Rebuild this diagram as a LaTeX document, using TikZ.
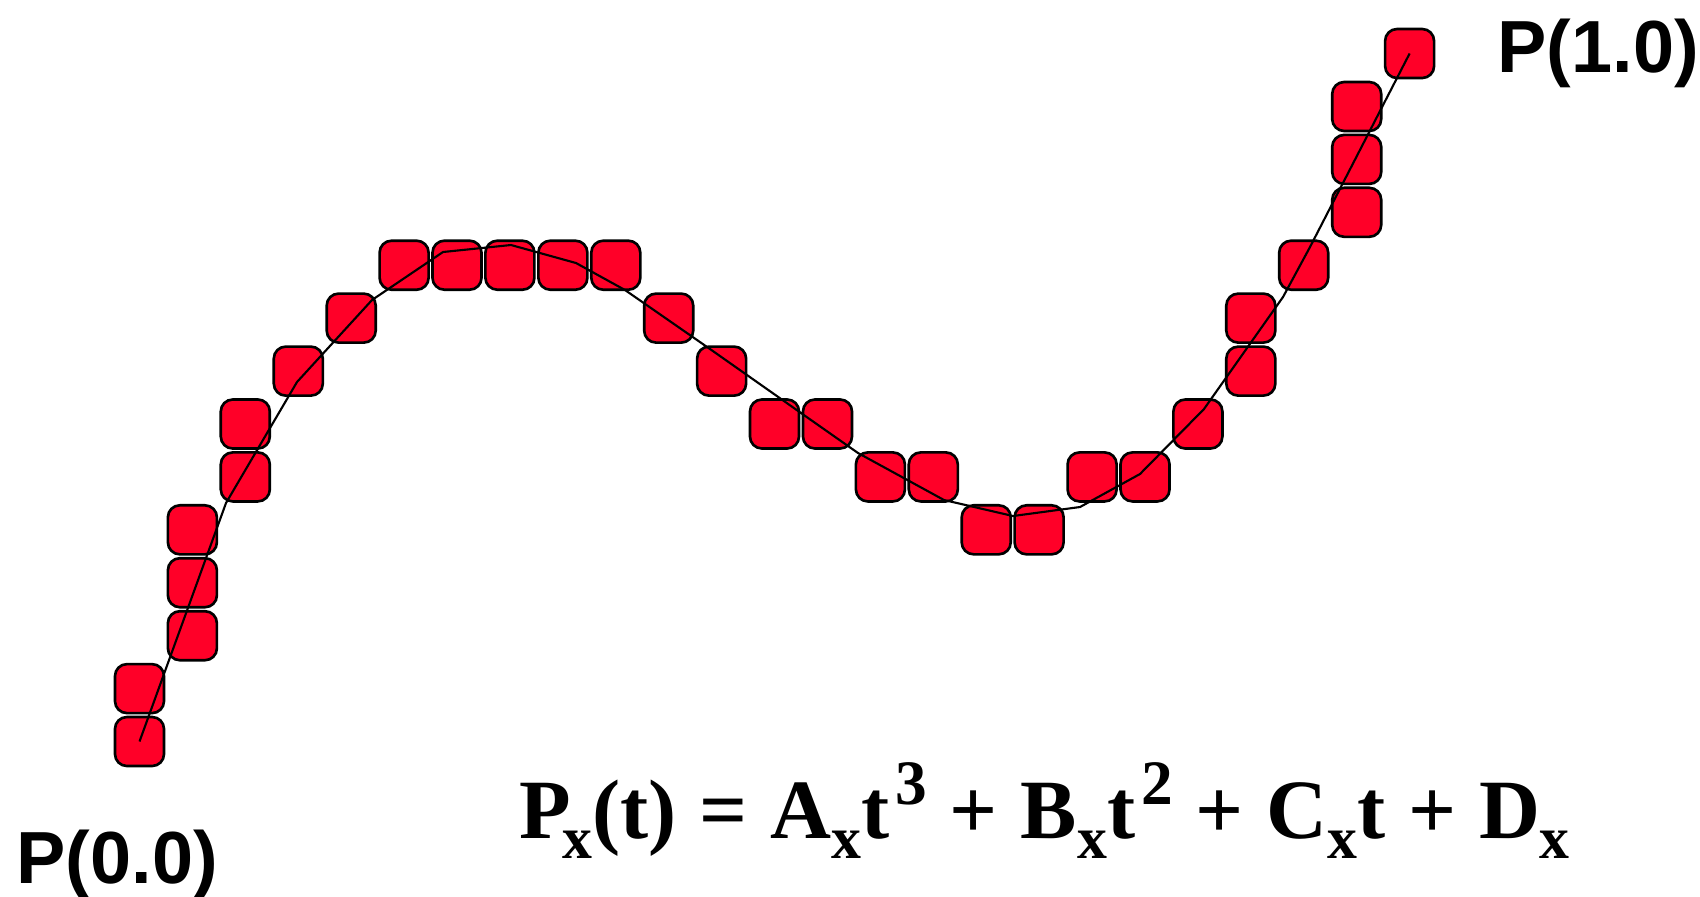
\documentclass[tikz,border=0pt]{standalone}
\usepackage{fontspec}
\usepackage{tikz}
\newfontfamily\labelfont{Liberation Sans}
\newfontfamily\eqnfont{Liberation Serif}
\definecolor{ptred}{RGB}{255,0,40}
\newcommand{\subx}{\raisebox{-0.24em}{\fontsize{17}{17}\selectfont x}}
\newcommand{\supn}[1]{\kern0.07em\raisebox{0.4em}{\fontsize{18}{18}\selectfont #1}}
\newcommand{\widespace}{\spaceskip=0.27em\relax}

\begin{document}
\begin{tikzpicture}[
  x=0.01cm, y=-0.01cm,
  sq/.style={draw, fill=ptred, line width=0.75pt, rounded corners=3.4pt, minimum size=0.49cm, inner sep=0pt},
  curveline/.style={line width=0.6pt},
  lbl/.style={font=\labelfont\bfseries\fontsize{21}{24}\selectfont, inner sep=0pt, anchor=base west},
  eqn/.style={font=\eqnfont\bfseries\fontsize{24}{28}\selectfont, inner sep=0pt, anchor=base west},
]
\useasboundingbox (0,0) rectangle (1700,896);

% ============ sample points, rising left part ============
\node[sq] (s1) at (139.5,741.5) {};
\node[sq] (s2) at (139.5,688.6) {};
\node[sq] (s3) at (192.4,635.7) {};
\node[sq] (s4) at (192.4,582.7) {};
\node[sq] (s5) at (192.4,529.8) {};
\node[sq] (s6) at (245.3,476.9) {};
\node[sq] (s7) at (245.3,424.0) {};
\node[sq] (s8) at (298.3,371.1) {};
\node[sq] (s9) at (351.2,318.1) {};

% ============ sample points, top hump ============
\node[sq] (s10) at (404.1,265.2) {};
\node[sq] (s11) at (457.0,265.2) {};
\node[sq] (s12) at (509.9,265.2) {};
\node[sq] (s13) at (562.9,265.2) {};
\node[sq] (s14) at (615.8,265.2) {};

% ============ sample points, falling middle part ============
\node[sq] (s15) at (668.7,318.1) {};
\node[sq] (s16) at (721.6,371.1) {};
\node[sq] (s17) at (774.5,424.0) {};
\node[sq] (s18) at (827.5,424.0) {};
\node[sq] (s19) at (880.4,476.9) {};
\node[sq] (s20) at (933.3,476.9) {};
\node[sq] (s21) at (986.2,529.8) {};
\node[sq] (s22) at (1039.1,529.8) {};

% ============ sample points, rising right part ============
\node[sq] (s23) at (1092.1,476.9) {};
\node[sq] (s24) at (1145.0,476.9) {};
\node[sq] (s25) at (1197.9,424.0) {};
\node[sq] (s26) at (1250.8,371.1) {};
\node[sq] (s27) at (1250.8,318.1) {};
\node[sq] (s28) at (1303.7,265.2) {};
\node[sq] (s29) at (1356.7,212.3) {};
\node[sq] (s30) at (1356.7,159.4) {};
\node[sq] (s31) at (1356.7,106.5) {};
\node[sq] (s32) at (1409.6,53.5) {};

% ===================== CURVE =====================
\draw[curveline] (s1.center) -- (226,503) -- (297,382) -- (372,300) -- (443,252)
  -- (511,245) -- (576,263) -- (625,290) -- (710,349) -- (801,413) -- (858,453)
  -- (944,500) -- (1013,516) -- (1080,507) -- (1140,474) -- (1204,409)
  -- (1283,297) -- (1310,247) -- (s32.center);

% ============ end point labels ============
\node[lbl] (pstart) at (16,883) {P(0.0)};
\node[lbl] (pend) at (1497,72) {P(1.0)};

% ============ polynomial ============
\node[eqn] (eqx) at (519,838) {\widespace P\kern-0.1em\subx(t) = A\subx t\supn{3} + B\subx t\supn{2} + C\subx t + D\subx};

\end{tikzpicture}
\end{document}
